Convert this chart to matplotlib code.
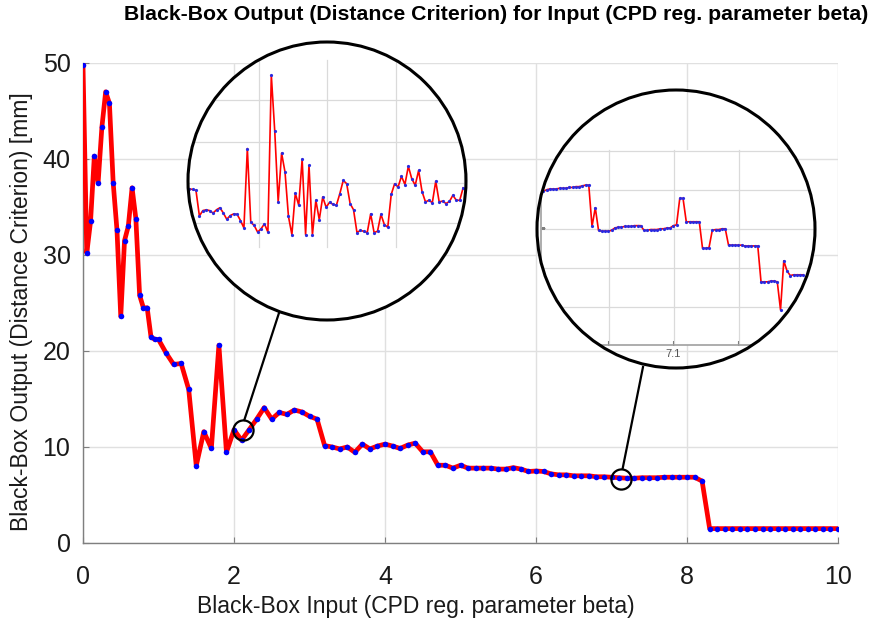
import numpy as np
import matplotlib
matplotlib.use("Agg")
import matplotlib.pyplot as plt
from matplotlib.patches import Circle, Rectangle
from matplotlib.lines import Line2D

plt.rcParams["font.family"] = ["Liberation Sans", "DejaVu Sans"]

W, H, DPI = 871, 630, 100

# coarse sweep: 0.05 steps up to 1, then 0.1 steps
beta = np.round(np.concatenate([np.arange(0.0, 1.0, 0.05),
                                np.arange(1.0, 10.01, 0.1)]), 3)
dist = [
    49.8, 30.2, 33.5, 40.3, 37.5, 43.3, 47.0, 45.8, 37.5, 32.6,
    23.6, 31.5, 33.0, 37.0, 33.8, 25.8, 24.5, 24.5, 21.5, 21.2,
    21.2, 19.8, 18.6, 18.7, 16.0, 8.05, 11.6, 9.85, 20.6, 9.45,
    11.8, 10.7, 11.8, 12.9, 14.1, 12.9, 13.6, 13.4, 13.85, 13.65,
    13.2, 12.9, 10.15, 10.0, 9.8, 10.0, 9.45, 10.3, 9.8, 10.1,
    10.3, 10.1, 9.85, 10.2, 10.4, 9.5, 9.5, 8.1, 8.1, 7.8,
    8.1, 7.8, 7.8, 7.8, 7.8, 7.7, 7.7, 7.85, 7.7, 7.45,
    7.5, 7.45, 7.2, 7.1, 7.1, 7.0, 7.0, 7.0, 6.9, 6.9,
    6.85, 6.8, 6.75, 6.75, 6.8, 6.8, 6.8, 6.85, 6.85, 6.85,
    6.85, 6.85, 6.45,
    1.5, 1.5, 1.5, 1.5, 1.5, 1.5, 1.5, 1.5, 1.5,
    1.5, 1.5, 1.5, 1.5, 1.5, 1.5, 1.5, 1.5, 1.5,
]

# fine sweep around beta = 2.1 (step 0.0025)
beta_zoom1 = np.round(np.arange(2.0, 2.2001, 0.0025), 4)
dist_zoom1 = [
    10.84, 10.82, 10.80, 10.18, 10.31, 10.33, 10.31, 10.25, 10.33, 10.38,
    10.25, 10.10, 10.19, 10.23, 10.22, 10.07, 9.89, 11.81, 10.03, 9.95,
    9.79, 9.87, 9.99, 9.79, 13.58, 12.23, 10.52, 11.70, 11.24, 10.17,
    9.73, 10.73, 10.44, 11.55, 9.73, 11.40, 9.73, 10.56, 10.09, 10.64,
    10.39, 10.51, 10.46, 10.44, 10.72, 11.04, 10.96, 10.48, 10.33, 9.78,
    9.83, 9.81, 9.78, 10.23, 9.78, 9.81, 10.22, 9.97, 9.91, 10.70,
    10.96, 10.88, 11.14, 10.94, 11.38, 11.08, 10.92, 11.28, 10.77, 10.52,
    10.56, 10.50, 11.02, 10.52, 10.54, 10.48, 10.53, 10.68, 10.56, 10.56,
    10.86,
]

# fine sweep around beta = 7.1 (step 0.005)
beta_zoom2 = np.round(np.arange(6.9, 7.3001, 0.005), 4)
dist_zoom2 = [
    6.847, 6.849, 6.850, 6.850, 6.850, 6.851, 6.851, 6.851, 6.852, 6.852,
    6.853, 6.853, 6.854, 6.855, 6.855, 6.802, 6.826, 6.797, 6.796, 6.796,
    6.796, 6.797, 6.800, 6.801, 6.801, 6.802, 6.802, 6.802, 6.803, 6.803,
    6.803, 6.797, 6.797, 6.798, 6.798, 6.798, 6.799, 6.799, 6.800, 6.800,
    6.803, 6.804, 6.838, 6.838, 6.808, 6.808, 6.808, 6.808, 6.808, 6.774,
    6.774, 6.775, 6.797, 6.798, 6.798, 6.799, 6.799, 6.778, 6.778, 6.778,
    6.778, 6.778, 6.777, 6.777, 6.777, 6.777, 6.777, 6.731, 6.731, 6.731,
    6.732, 6.732, 6.731, 6.695, 6.758, 6.745, 6.739, 6.740, 6.740, 6.740,
    6.740,
]

AXIS_GRAY = "#7f7f7f"
GRID_GRAY = "#e0e0e0"
INSET_GRID = "#dadada"


def px_rect(l, t, r, b):
    """pixel box (top-left origin) -> figure fraction rect"""
    return [l / W, 1 - b / H, (r - l) / W, (b - t) / H]


def px_in(x, y):
    return x / DPI, (H - y) / DPI


fig = plt.figure(figsize=(W / DPI, H / DPI), dpi=DPI)
ax = fig.add_axes(px_rect(83, 63, 838, 543))

ax.plot(beta, dist, color="#ff0000", lw=3.4, zorder=3,
        marker="o", ms=4.0, mfc="#0000ff", mec="none", solid_joinstyle="round")
ax.set_xlim(0, 10)
ax.set_ylim(0, 50)
ax.set_xticks(range(0, 11, 2))
ax.set_yticks(range(0, 51, 10))
ax.grid(True, color=GRID_GRAY, lw=1.0)
ax.set_axisbelow(True)
for s in ("top", "right"):
    ax.spines[s].set_visible(False)
for s in ("left", "bottom"):
    ax.spines[s].set_color(AXIS_GRAY)
    ax.spines[s].set_linewidth(1.0)
ax.tick_params(direction="in", length=4, color=AXIS_GRAY, labelsize=18,
               labelcolor="#1a1a1a")
ax.tick_params(axis="x", pad=16)
ax.tick_params(axis="y", pad=9)

fig.text(416 / W, 1 - 606 / H, "Black-Box Input (CPD reg. parameter beta)",
         ha="center", va="center", fontsize=16.5, color="#1a1a1a")
fig.text(22 / W, 1 - 312 / H, "Black-Box Output (Distance Criterion) [mm]",
         ha="center", va="center", rotation=90, fontsize=16.5, color="#1a1a1a")
fig.text(496 / W, 1 - 15 / H,
         "Black-Box Output (Distance Criterion) for Input (CPD reg. parameter beta)",
         ha="center", va="center", fontsize=15.3, fontweight="bold")

# small markers of the magnified spots
ax.plot([2.115], [11.75], "o", ms=14.5, mfc="none", mec="black", mew=1.6, zorder=5)
ax.plot([7.12], [6.65], "o", ms=14.5, mfc="none", mec="black", mew=1.6, zorder=5)


def chord_grid(center_px, r_px, rect_px, xs_px, ys_px):
    """grid of a round inset, drawn in figure pixels and cut to the circle"""
    cx, cy = center_px
    l, t, r, b = rect_px
    segs = []
    for X in xs_px:
        d = X - cx
        if abs(d) < r_px:
            h = np.sqrt(r_px ** 2 - d ** 2)
            segs.append(((X, max(cy - h, t)), (X, min(cy + h, b))))
    for Y in ys_px:
        d = Y - cy
        if abs(d) < r_px:
            w = np.sqrt(r_px ** 2 - d ** 2)
            segs.append(((max(cx - w, l), Y), (min(cx + w, r), Y)))
    for (x0, y0), (x1, y1) in segs:
        fig.add_artist(Line2D([x0 / DPI, x1 / DPI], [(H - y0) / DPI, (H - y1) / DPI],
                              transform=fig.dpi_scale_trans, color=INSET_GRID,
                              lw=0.9, zorder=1.5))


def magnifier(rect_px, center_px, r_px, xlim, ylim, xgrid, ygrid, xs, ys,
              spines=(), xticks=(), xticklabels=(), yticks=()):
    circ_clip = Circle(px_in(*center_px), r_px / DPI, transform=fig.dpi_scale_trans)
    ia = fig.add_axes(px_rect(*rect_px))
    ia.set_zorder(2)
    ia.patch.set_alpha(0.0)
    line, = ia.plot(xs, ys, color="#ff0000", lw=1.2, marker="o", ms=2.3,
                    mfc="#2a2ae0", mec="none", zorder=2)
    line.set_clip_path(circ_clip)
    ia.set_xlim(*xlim)
    ia.set_ylim(*ylim)
    ia.set_xticks(list(xticks))
    ia.set_xticklabels(list(xticklabels))
    ia.set_yticks(list(yticks))
    ia.set_yticklabels([""] * len(yticks))
    ia.tick_params(direction="in", length=3, color=AXIS_GRAY, labelsize=8,
                   labelcolor="#555555", pad=3)
    for name, sp in ia.spines.items():
        sp.set_visible(name in spines)
        sp.set_color("#a0a0a0")
        sp.set_linewidth(1.2)
        sp.set_clip_path(circ_clip)
    for tk in ia.xaxis.get_major_ticks() + ia.yaxis.get_major_ticks():
        tk.tick1line.set_clip_path(circ_clip)
        tk.tick2line.set_visible(False)

    # grid in figure pixels, under the curve of the inset
    l, t, r, b = rect_px
    to_px_x = lambda v: l + (v - xlim[0]) / (xlim[1] - xlim[0]) * (r - l)
    to_px_y = lambda v: b - (v - ylim[0]) / (ylim[1] - ylim[0]) * (b - t)
    chord_grid(center_px, r_px - 1, rect_px,
               [round(to_px_x(v)) + 0.5 for v in xgrid],
               [round(to_px_y(v)) + 0.5 for v in ygrid])

    fig.add_artist(Circle(px_in(*center_px), r_px / DPI,
                          transform=fig.dpi_scale_trans,
                          facecolor="none", edgecolor="black", lw=2.2, zorder=4))
    return ia


def white_disc(center_px, r_px, rect_px=None):
    """blank out the main plot under a magnifier (optionally only inside a box)"""
    disc = Circle(px_in(*center_px), r_px / DPI, transform=fig.dpi_scale_trans,
                  facecolor="white", edgecolor="none", zorder=1)
    if rect_px is None:
        fig.add_artist(disc)
        return
    l, t, r, b = rect_px
    box = fig.add_artist(Rectangle(px_in(l, b), (r - l) / DPI, (b - t) / DPI,
                                   transform=fig.dpi_scale_trans,
                                   facecolor="white", edgecolor="none", zorder=1))
    box.set_clip_path(disc)


white_disc((327, 181), 139)
magnifier((185, 60, 470, 247), (327, 181), 139,
          (1.997, 2.205), (9.43, 13.95), [2.05, 2.10, 2.15, 2.20], [10, 11, 12, 13],
          beta_zoom1, dist_zoom1)

white_disc((676, 229), 139, (541, 150, 840, 345))
magnifier((541, 150, 840, 345), (676, 229), 139,
          (6.8965, 7.3565), (6.65, 6.90), [7.0, 7.1, 7.2],
          [6.70, 6.75, 6.80, 6.85, 6.8995],
          beta_zoom2, dist_zoom2, spines=("left", "bottom"),
          xticks=[7.0, 7.1, 7.2], xticklabels=["", "7.1", ""], yticks=[6.80])

# leader lines from the spots to the magnifiers
for (x0, y0), (x1, y1) in [((244.3, 420), (279.3, 312)),
                           ((622.7, 468.3), (643, 367))]:
    fig.add_artist(Line2D([x0 / DPI, x1 / DPI], [(H - y0) / DPI, (H - y1) / DPI],
                          transform=fig.dpi_scale_trans, color="black", lw=1.6,
                          zorder=4))

fig.savefig("out.png", dpi=DPI)
